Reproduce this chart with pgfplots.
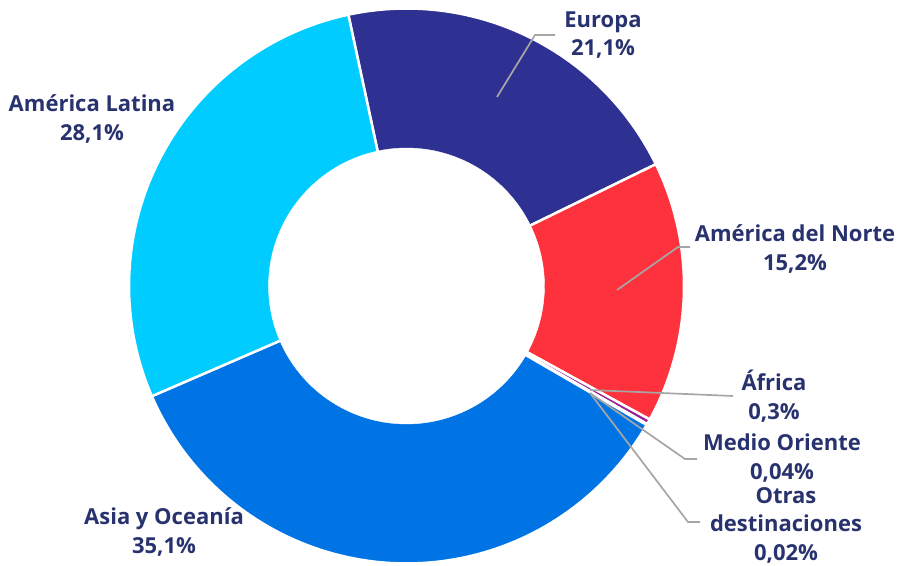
\documentclass[border=0pt]{standalone}
\usepackage{pgfplots}
\pgfplotsset{compat=1.18}
\usepackage{pgfplotstable}
\usepackage{fontspec}
\setmainfont{Open Sans}
\definecolor{cEu}{RGB}{46,49,146}
\definecolor{cNA}{RGB}{253,50,60}
\definecolor{cAf}{RGB}{150,30,150}
\definecolor{cMO}{RGB}{230,60,140}
\definecolor{cOt}{RGB}{120,120,120}
\definecolor{cAs}{RGB}{0,116,228}
\definecolor{cAL}{RGB}{0,204,255}
\definecolor{txt}{RGB}{40,50,110}
\definecolor{lead}{RGB}{166,166,166}

% share of each destination (%), clockwise from the top-left
\pgfplotstableread[col sep=comma]{
name,value,col
Europa,21.1,cEu
NorteAmerica,15.2,cNA
Africa,0.3,cAf
MedioOriente,0.04,cMO
Otras,0.02,cOt
Asia,35.1,cAs
Latina,28.1,cAL
}\shares

\def\cx{406.5}
\def\cy{279}
\def\R{277.5}
\def\r{138}
\def\start{102.1}

\begin{document}
\begin{tikzpicture}
\begin{axis}[x=1pt,y=1pt,xmin=0,xmax=899,ymin=0,ymax=565,
  hide axis, clip=false, scale only axis]
\path (axis cs:0,0) rectangle (axis cs:899,565);
\pgfmathsetmacro\total{0}
\pgfplotstablegetrowsof{\shares}
\pgfmathtruncatemacro\nrows{\pgfplotsretval-1}
\foreach \i in {0,...,\nrows}{
  \pgfplotstablegetelem{\i}{value}\of{\shares}
  \pgfmathsetmacro\total{\total+\pgfplotsretval}
  \xdef\total{\total}
}
\xdef\cur{\start}
\foreach \i in {0,...,\nrows}{
  \pgfplotstablegetelem{\i}{value}\of{\shares}
  \pgfmathsetmacro\aB{\cur-360*\pgfplotsretval/\total}
  \edef\val{\pgfplotsretval}
  \pgfplotstablegetelem{\i}{col}\of{\shares}
  \edef\col{\pgfplotsretval}
  \edef\tmp{\noexpand\addplot[fill=\col, draw=white, line width=2.5pt, domain=\aB:\cur, samples=90, variable=\noexpand\t]
    ({\cx+\R*cos(\noexpand\t)},{\cy+\R*sin(\noexpand\t)}) -- (axis cs:\cx,\cy) -- cycle;}
  \tmp
  \xdef\cur{\aB}
}
% hole
\addplot[fill=white, draw=white, domain=0:360, samples=120, variable=\t]
  ({\cx+\r*cos(\t)},{\cy+\r*sin(\t)}) -- cycle;

% leader lines
\addplot[lead, line width=1.7pt] coordinates {(497,468) (535,530) (555,530)};
\addplot[lead, line width=1.7pt] coordinates {(617,275) (678,318) (690,318)};
\addplot[lead, line width=1.7pt] coordinates {(590,175) (733,169)};
\addplot[lead, line width=1.7pt] coordinates {(590,172) (685,106) (697,106)};
\addplot[lead, line width=1.7pt] coordinates {(590,172) (688,43) (700,43)};

\tikzset{lab/.style={font=\fontsize{22}{28.5}\selectfont\bfseries, text=txt, align=center, inner sep=0pt}}
\node[lab] at (axis cs:603,530) {Europa\\21,1\%};
\node[lab] at (axis cs:92,446) {América Latina\\28,1\%};
\node[lab] at (axis cs:795,316) {América del Norte\\15,2\%};
\node[lab] at (axis cs:774,169) {África\\0,3\%};
\node[lab] at (axis cs:782,107) {Medio Oriente\\0,04\%};
\node[lab] at (axis cs:786,40) {Otras\\destinaciones\\0,02\%};
\node[lab] at (axis cs:164,33) {Asia y Oceanía\\35,1\%};
\end{axis}
\end{tikzpicture}
\end{document}
